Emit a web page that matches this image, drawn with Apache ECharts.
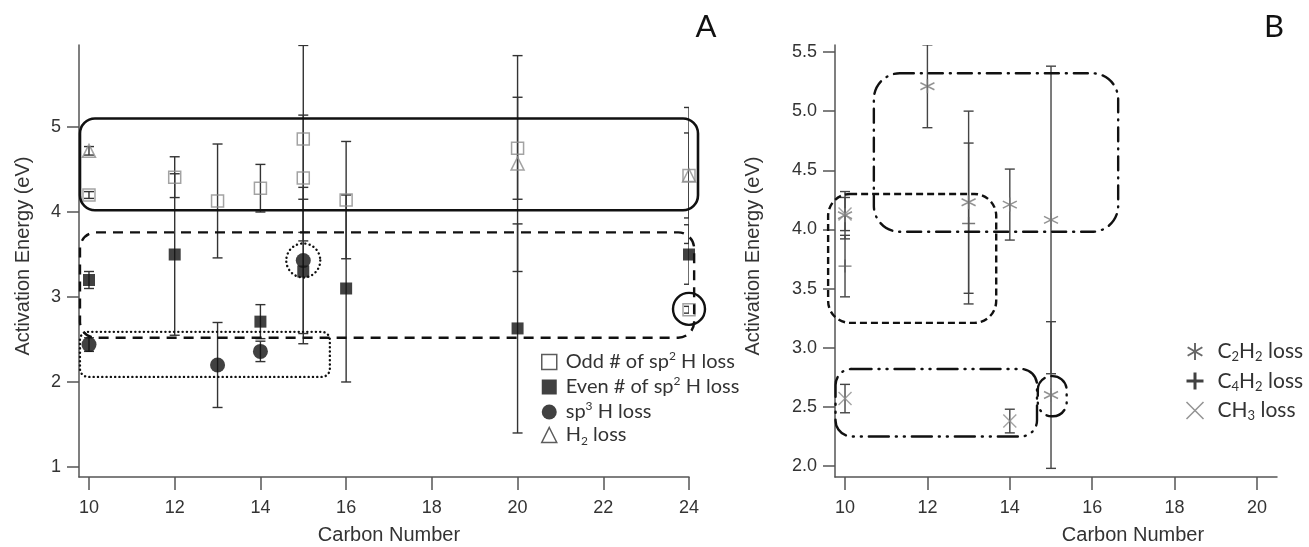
<!DOCTYPE html>
<html>
<head>
<meta charset="utf-8">
<script src="https://cdn.jsdelivr.net/npm/echarts@6/dist/echarts.min.js"></script>
<style>
  html, body { margin: 0; padding: 0; background: #fff; }
  #chart { width: 1309px; height: 547px; }
</style>
</head>
<body>
<div id="chart"></div>
<script>
// Panel A: [carbon number, activation energy (eV), error]
const oddSp2 = [[10, 4.2, 0.04], [12, 4.41, 0.24], [13, 4.13, 0.67], [14, 4.28, 0.28], [15, 4.86, 1.1],
  [15, 4.4, 0.74], [16, 4.14, 0.69], [20, 4.75, 0.6], [24, 4.43, 0.8], [24, 2.85, 0.04]];
const evenSp2 = [[10, 3.2, 0.1], [12, 3.5, 0.95], [14, 2.71, 0.2], [15, 3.3, 0.85], [16, 3.1, 1.1],
  [20, 2.63, 1.23], [24, 3.5, 0.35]];
const sp3Loss = [[10, 2.44, 0.08], [13, 2.2, 0.5], [14, 2.36, 0.12], [15, 3.43, 0.86]];
const h2Loss = [[10, 4.72, 0.05], [20, 4.57, 1.27], [24, 4.43, 0.5]];

// Panel B
const c2h2Loss = [[10, 4.12, 0.2], [12, 5.21, 0.35], [13, 4.23, 0.77], [14, 4.21, 0.3], [15, 4.08, 1.3], [15, 2.6, 0.62]];
const c4h2Loss = [[10, 3.69, 0.26], [13, 4.05, 0.68]];
const ch3Loss = [[10, 4.13, 0.14], [10, 2.57, 0.12], [14, 2.38, 0.1]];

// grouping boxes, [x0, x1, y0, y1] in data units
const boxesA = [[9.79, 24.21, 4.02, 5.1], [9.79, 24.12, 2.52, 3.76], [9.79, 15.62, 2.06, 2.59]];
const ringsA = [[15, 3.43], [24, 2.86]];
const boxesB = [[10.7, 16.63, 3.98, 5.32], [9.59, 13.67, 3.21, 4.3], [9.77, 14.66, 2.25, 2.82], [14.68, 15.38, 2.42, 2.76]];

const ticksXA = [10, 12, 14, 16, 18, 20, 22, 24];
const ticksYA = [1, 2, 3, 4, 5];
const ticksXB = [10, 12, 14, 16, 18, 20];
const ticksYB = [2.0, 2.5, 3.0, 3.5, 4.0, 4.5, 5.0, 5.5];

const boxStyleA = [
  { w: 2.6, dash: null, r: 15, cap: 'butt' },
  { w: 2.4, dash: [10, 7], r: 16, cap: 'butt' },
  { w: 2.4, dash: [0.1, 4.2], r: 8, cap: 'round' }
];
const ringStyleA = [
  { w: 2.4, dash: [0.1, 4.2], r: 17, cap: 'round' },
  { w: 2.4, dash: null, r: 16, cap: 'butt' }
];
const boxStyleB = [
  { w: 2.4, dash: [14, 7, 1, 7], r: 26, cap: 'round' },
  { w: 2.4, dash: [7, 4], r: 22, cap: 'butt' },
  { w: 2.4, dash: [20, 7, 1, 7, 1, 7], r: 16, cap: 'round' },
  { w: 2.4, dash: [20, 7, 1, 7, 1, 7], r: 14, cap: 'round' }
];

const ASTERISK = 'path://M5,0L5,10M0.67,2.5L9.33,7.5M0.67,7.5L9.33,2.5';
const PLUS = 'path://M5,0L5,10M0,5L10,5';
const CROSS = 'path://M0,0L10,10M0,10L10,0';

const legendText = {
  odd: '{t|Odd # of sp}{sup|2}{t| H loss}',
  even: '{t|Even # of sp}{sup|2}{t| H loss}',
  sp3: '{t|sp}{sup|3}{t| H loss}',
  h2: '{t|H}{sub|2}{t| loss}',
  c2h2: '{t|C}{sub|2}{t|H}{sub|2}{t| loss}',
  c4h2: '{t|C}{sub|4}{t|H}{sub|2}{t| loss}',
  ch3: '{t|CH}{sub|3}{t| loss}'
};

const TICK_FONT = '"Liberation Sans", Arial, sans-serif';
const LEGEND_FONT = 'Lato, "Open Sans", sans-serif';

function errorBar(params, api) {
  const x = api.value(0), y = api.value(1), e = api.value(2);
  const hi = api.coord([x, y + e]);
  const lo = api.coord([x, y - e]);
  const w = 5;
  const style = { stroke: api.visual('color'), lineWidth: 1.4 };
  return {
    type: 'group',
    children: [
      { type: 'line', shape: { x1: hi[0], y1: hi[1], x2: lo[0], y2: lo[1] }, style },
      { type: 'line', shape: { x1: hi[0] - w, y1: hi[1], x2: hi[0] + w, y2: hi[1] }, style },
      { type: 'line', shape: { x1: lo[0] - w, y1: lo[1], x2: lo[0] + w, y2: lo[1] }, style }
    ]
  };
}

function boxRenderer(styles) {
  return (params, api) => {
    const s = styles[params.dataIndex];
    const p0 = api.coord([api.value(0), api.value(3)]);
    const p1 = api.coord([api.value(1), api.value(2)]);
    return {
      type: 'rect',
      shape: { x: p0[0], y: p0[1], width: p1[0] - p0[0], height: p1[1] - p0[1], r: s.r },
      style: { fill: 'none', stroke: '#111', lineWidth: s.w, lineDash: s.dash, lineCap: s.cap }
    };
  };
}

function ringRenderer(styles) {
  return (params, api) => {
    const s = styles[params.dataIndex];
    const c = api.coord([api.value(0), api.value(1)]);
    return {
      type: 'circle',
      shape: { cx: c[0], cy: c[1], r: s.r },
      style: { fill: 'none', stroke: '#111', lineWidth: s.w, lineDash: s.dash, lineCap: s.cap }
    };
  };
}

function valueAxis(grid, min, max, ticks, fmt, isY) {
  return {
    type: 'value',
    gridIndex: grid,
    min: min,
    max: max,
    axisLine: { show: true, onZero: false, lineStyle: { color: '#555', width: 1.5 } },
    axisTick: { show: true, length: isY ? 12 : 13, customValues: ticks, lineStyle: { color: '#555', width: 1.5 } },
    axisLabel: {
      customValues: ticks, formatter: fmt, margin: isY ? 18 : 22,
      fontSize: 18, fontFamily: TICK_FONT, color: '#333'
    },
    splitLine: { show: false }
  };
}

const chart = echarts.init(document.getElementById('chart'));

const richA = {
  t: { fontSize: 20, fontFamily: LEGEND_FONT, color: '#333', lineHeight: 24 },
  sup: { fontSize: 12, fontFamily: LEGEND_FONT, color: '#333', lineHeight: 12, verticalAlign: 'top' },
  sub: { fontSize: 12, fontFamily: LEGEND_FONT, color: '#333', lineHeight: 12, verticalAlign: 'bottom' }
};
const richB = {
  t: { fontSize: 21, fontFamily: LEGEND_FONT, color: '#333', lineHeight: 24 },
  sub: { fontSize: 13, fontFamily: LEGEND_FONT, color: '#333', lineHeight: 12, verticalAlign: 'bottom' }
};

chart.setOption({
  animation: false,
  backgroundColor: '#fff',
  grid: [
    { left: 79, right: 620, top: 45, bottom: 70, outerBoundsMode: 'none' },
    { left: 835, right: 32, top: 45, bottom: 70, outerBoundsMode: 'none' }
  ],
  xAxis: [
    valueAxis(0, 9.767, 24, ticksXA, v => String(v), false),
    valueAxis(1, 9.757, 20.485, ticksXB, v => String(v), false)
  ],
  yAxis: [
    valueAxis(0, 0.882, 5.965, ticksYA, v => String(v), true),
    valueAxis(1, 1.907, 5.559, ticksYB, v => v.toFixed(1), true)
  ],
  legend: [
    {
      orient: 'vertical', left: 536, top: 345, itemWidth: 15, itemHeight: 15, itemGap: 3,
      selectedMode: false, formatter: n => legendText[n],
      textStyle: { padding: [0, 0, 0, 4], rich: richA },
      data: [
        { name: 'odd', icon: 'rect', itemStyle: { color: 'rgba(0,0,0,0)', borderColor: '#333', borderWidth: 1.5 } },
        { name: 'even', icon: 'rect', itemStyle: { color: '#111' } },
        { name: 'sp3', icon: 'circle', itemStyle: { color: '#111' } },
        { name: 'h2', icon: 'triangle', itemStyle: { color: 'rgba(0,0,0,0)', borderColor: '#333', borderWidth: 1.5 } }
      ]
    },
    {
      orient: 'vertical', left: 1180, top: 336, itemWidth: 17, itemHeight: 17, itemGap: 7,
      selectedMode: false, formatter: n => legendText[n],
      textStyle: { padding: [0, 0, 0, 9], rich: richB },
      data: [
        { name: 'c2h2', icon: ASTERISK, itemStyle: { color: 'rgba(0,0,0,0)', borderColor: '#444', borderWidth: 2 } },
        { name: 'c4h2', icon: PLUS, itemStyle: { color: 'rgba(0,0,0,0)', borderColor: '#111', borderWidth: 3 } },
        { name: 'ch3', icon: CROSS, itemStyle: { color: 'rgba(0,0,0,0)', borderColor: '#777', borderWidth: 1.5 } }
      ]
    }
  ],
  graphic: [
    { type: 'text', x: 23, y: 256, rotation: Math.PI / 2,
      style: { text: 'Activation Energy (eV)', font: '20px ' + TICK_FONT, fill: '#333', align: 'center', verticalAlign: 'middle' } },
    { type: 'text', x: 753, y: 256, rotation: Math.PI / 2,
      style: { text: 'Activation Energy (eV)', font: '20px ' + TICK_FONT, fill: '#333', align: 'center', verticalAlign: 'middle' } },
    { type: 'text', x: 389, y: 535,
      style: { text: 'Carbon Number', font: '20px ' + TICK_FONT, fill: '#333', align: 'center', verticalAlign: 'middle' } },
    { type: 'text', x: 1133, y: 535,
      style: { text: 'Carbon Number', font: '20px ' + TICK_FONT, fill: '#333', align: 'center', verticalAlign: 'middle' } },
    { type: 'text', x: 706, y: 27,
      style: { text: 'A', font: '31px ' + LEGEND_FONT, fill: '#111', align: 'center', verticalAlign: 'middle' } },
    { type: 'text', x: 1274, y: 27,
      style: { text: 'B', font: '31px ' + LEGEND_FONT, fill: '#111', align: 'center', verticalAlign: 'middle' } }
  ],
  series: [
    // panel A error bars
    { type: 'custom', xAxisIndex: 0, yAxisIndex: 0, renderItem: errorBar, clip: true, silent: true,
      itemStyle: { color: '#333' }, encode: { x: 0, y: 1 },
      data: [].concat(oddSp2, evenSp2, sp3Loss, h2Loss), z: 2 },
    { name: 'odd', type: 'scatter', xAxisIndex: 0, yAxisIndex: 0, symbol: 'rect', symbolSize: 12,
      itemStyle: { color: 'rgba(0,0,0,0)', borderColor: '#8c8c8c', borderWidth: 1.5 },
      data: oddSp2.map(d => [d[0], d[1]]), z: 3 },
    { name: 'even', type: 'scatter', xAxisIndex: 0, yAxisIndex: 0, symbol: 'rect', symbolSize: 12,
      itemStyle: { color: '#111' }, data: evenSp2.map(d => [d[0], d[1]]), z: 3 },
    { name: 'sp3', type: 'scatter', xAxisIndex: 0, yAxisIndex: 0, symbol: 'circle', symbolSize: 15,
      itemStyle: { color: '#111' }, data: sp3Loss.map(d => [d[0], d[1]]), z: 3 },
    { name: 'h2', type: 'scatter', xAxisIndex: 0, yAxisIndex: 0, symbol: 'triangle', symbolSize: 13,
      itemStyle: { color: 'rgba(0,0,0,0)', borderColor: '#8c8c8c', borderWidth: 1.5 },
      data: h2Loss.map(d => [d[0], d[1]]), z: 3 },
    { type: 'custom', xAxisIndex: 0, yAxisIndex: 0, renderItem: boxRenderer(boxStyleA), silent: true,
      encode: { x: 0, y: 2 }, data: boxesA, z: 4 },
    { type: 'custom', xAxisIndex: 0, yAxisIndex: 0, renderItem: ringRenderer(ringStyleA), silent: true,
      encode: { x: 0, y: 1 }, data: ringsA, z: 4 },

    // panel B
    { type: 'custom', xAxisIndex: 1, yAxisIndex: 1, renderItem: errorBar, clip: true, silent: true,
      itemStyle: { color: '#444' }, encode: { x: 0, y: 1 },
      data: [].concat(c2h2Loss, c4h2Loss, ch3Loss), z: 2 },
    { name: 'c2h2', type: 'scatter', xAxisIndex: 1, yAxisIndex: 1, symbol: ASTERISK, symbolSize: 14,
      itemStyle: { color: 'rgba(0,0,0,0)', borderColor: '#777', borderWidth: 1.5 },
      data: c2h2Loss.map(d => [d[0], d[1]]), z: 3 },
    { name: 'c4h2', type: 'scatter', xAxisIndex: 1, yAxisIndex: 1, symbol: PLUS, symbolSize: 13,
      itemStyle: { color: 'rgba(0,0,0,0)', borderColor: '#555', borderWidth: 1.4 },
      data: c4h2Loss.map(d => [d[0], d[1]]), z: 3 },
    { name: 'ch3', type: 'scatter', xAxisIndex: 1, yAxisIndex: 1, symbol: CROSS, symbolSize: 13,
      itemStyle: { color: 'rgba(0,0,0,0)', borderColor: '#8c8c8c', borderWidth: 1.4 },
      data: ch3Loss.map(d => [d[0], d[1]]), z: 3 },
    { type: 'custom', xAxisIndex: 1, yAxisIndex: 1, renderItem: boxRenderer(boxStyleB), silent: true,
      encode: { x: 0, y: 2 }, data: boxesB, z: 4 }
  ]
});
</script>
</body>
</html>
